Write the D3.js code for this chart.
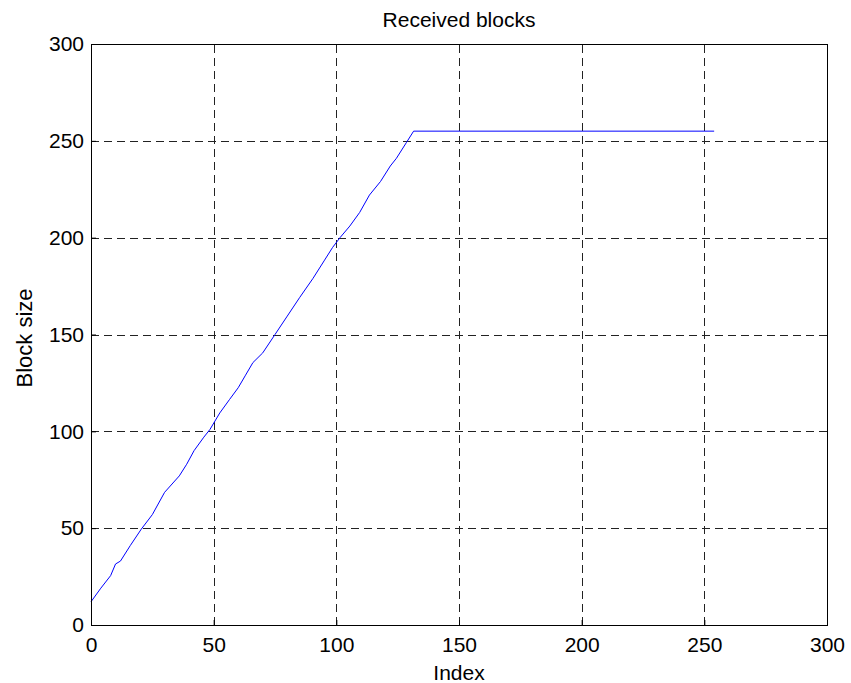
<!DOCTYPE html>
<html>
<head>
<meta charset="utf-8">
<script src="https://cdn.jsdelivr.net/npm/d3@7"></script>
<style>
  body { margin: 0; background: #fff; }
  text { font-family: "Liberation Sans", Arial, sans-serif; fill: #000; }
</style>
</head>
<body>
<div id="chart"></div>
<script>
// dimensions de la figure
const width = 851,
    height = 683,
    margin = { top: 44, right: 24, bottom: 58, left: 91 };

// donnees
const indexVals = [0, 4, 8, 10, 12, 16, 20.5, 25, 30, 36, 39, 42, 46, 48.5, 52.5, 56.5, 60, 63, 66, 70, 75, 80, 85, 90.5, 95, 98.5, 101.5, 105.5, 109.5, 113.5, 118, 122, 124.5, 128.5, 131.5, 254];
const blockSizes = [12, 19, 25.5, 31.5, 33, 41, 49.5, 57, 68.5, 77, 83, 90, 97, 101, 109.5, 116.5, 122.5, 129, 135.5, 140.5, 150, 159.5, 169, 179, 188, 195, 200, 206, 213, 222, 229, 237, 241, 249, 255, 255];
const xTicks = [0, 50, 100, 150, 200, 250, 300];
const yTicks = [0, 50, 100, 150, 200, 250, 300];

const data = indexVals.map((d, i) => ({ x: d, y: blockSizes[i] }));

const svg = d3.select("#chart")
  .append("svg")
  .attr("width", width)
  .attr("height", height);

const x = d3.scaleLinear()
  .domain([0, 300])
  .range([margin.left, width - margin.right]);

const y = d3.scaleLinear()
  .domain([0, 300])
  .range([height - margin.bottom, margin.top]);

// grille en pointilles
const grid = svg.append("g")
  .attr("stroke", "#222")
  .attr("stroke-width", 1)
  .attr("stroke-dasharray", "8,5");

grid.selectAll("line.v")
  .data(xTicks)
  .join("line")
  .attr("class", "v")
  .attr("x1", d => Math.round(x(d)) + 0.5)
  .attr("x2", d => Math.round(x(d)) + 0.5)
  .attr("y1", y(0))
  .attr("y2", y(300));

grid.selectAll("line.h")
  .data(yTicks)
  .join("line")
  .attr("class", "h")
  .attr("x1", x(0))
  .attr("x2", x(300))
  .attr("y1", d => Math.round(y(d)) + 0.5)
  .attr("y2", d => Math.round(y(d)) + 0.5);

// courbe
const line = d3.line()
  .x(d => x(d.x))
  .y(d => y(d.y));

svg.append("path")
  .datum(data)
  .attr("fill", "none")
  .attr("stroke", "#0000ff")
  .attr("stroke-width", 1)
  .attr("d", line);

// cadre
svg.append("rect")
  .attr("x", Math.round(x(0)) + 0.5)
  .attr("y", Math.round(y(300)) + 0.5)
  .attr("width", Math.round(x(300)) - Math.round(x(0)))
  .attr("height", Math.round(y(0)) - Math.round(y(300)))
  .attr("fill", "none")
  .attr("stroke", "#000")
  .attr("stroke-width", 1);

// axes (ticks vers l'interieur)
const xAxis = svg.append("g")
  .attr("transform", `translate(0,${y(0)})`)
  .call(d3.axisBottom(x).tickValues(xTicks).tickSizeInner(-5).tickSizeOuter(0).tickPadding(12));

const yAxis = svg.append("g")
  .attr("transform", `translate(${x(0)},0)`)
  .call(d3.axisLeft(y).tickValues(yTicks).tickSizeInner(-5).tickSizeOuter(0).tickPadding(7));

[xAxis, yAxis].forEach(g => {
  g.select(".domain").remove();
  g.selectAll("text")
    .style("font-size", "21px")
    .style("font-family", "'Liberation Sans', Arial, sans-serif")
    .attr("fill", "#000");
  g.selectAll("line").attr("stroke", "#000");
});

// titres
svg.append("text")
  .attr("x", (x(0) + x(300)) / 2)
  .attr("y", 27)
  .attr("text-anchor", "middle")
  .style("font-size", "21px")
  .text("Received blocks");

svg.append("text")
  .attr("x", (x(0) + x(300)) / 2)
  .attr("y", 680)
  .attr("text-anchor", "middle")
  .style("font-size", "21px")
  .text("Index");

svg.append("text")
  .attr("transform", `translate(32, 338) rotate(-90)`)
  .attr("text-anchor", "middle")
  .style("font-size", "22px")
  .text("Block size");
</script>
</body>
</html>
